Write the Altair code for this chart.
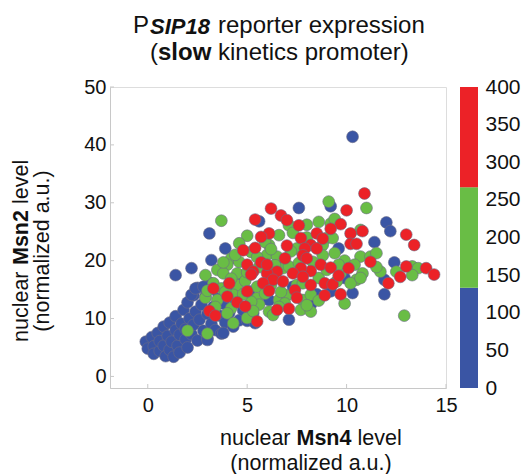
import altair as alt
import pandas as pd

# ---- data: (nuclear Msn4, nuclear Msn2, reporter expression) ----
blue_cells = [
    (-0.1, 6.0, 35), (0.0, 4.8, 20), (0.2, 6.8, 45), (0.3, 5.2, 30), (0.3, 3.9, 15),
    (0.5, 7.5, 50), (0.6, 4.4, 25), (0.6, 6.1, 40), (0.8, 8.6, 55), (0.8, 5.3, 30),
    (0.9, 3.5, 10), (1.0, 7.0, 45), (1.1, 4.6, 20), (1.1, 9.3, 60), (1.2, 6.0, 35),
    (1.3, 3.4, 15), (1.4, 8.0, 50), (1.4, 10.4, 70), (1.5, 5.3, 30), (1.6, 7.2, 45),
    (1.6, 4.1, 20), (1.7, 9.1, 65), (1.8, 11.5, 75), (1.9, 6.4, 40), (1.9, 8.2, 55),
    (2.0, 5.0, 25), (2.0, 12.8, 80), (2.1, 10.0, 60), (2.2, 7.3, 45), (2.3, 14.0, 90),
    (2.3, 8.9, 55), (2.4, 11.2, 70), (2.5, 6.2, 35), (2.5, 15.3, 95), (2.6, 9.8, 65),
    (2.7, 12.4, 85), (2.8, 7.9, 50), (2.9, 13.8, 90), (3.0, 10.8, 75), (3.0, 6.6, 40),
    (3.1, 16.2, 100), (3.2, 9.1, 60), (3.3, 12.0, 80), (3.4, 8.0, 55), (3.5, 14.6, 95),
    (3.6, 10.5, 70), (3.7, 7.4, 45), (3.8, 12.6, 85), (3.9, 9.3, 65), (4.0, 15.5, 105),
    (4.1, 11.0, 75), (4.3, 8.6, 60), (4.4, 13.2, 90), (4.6, 9.7, 70), (4.8, 11.4, 85),
    (5.0, 9.6, 75), (5.3, 10.9, 90), (5.4, 9.2, 80), (1.4, 17.5, 70), (2.2, 18.7, 85),
    (3.2, 20.1, 95), (3.1, 24.7, 110), (3.9, 22.1, 105), (2.2, 14.1, 80), (2.4, 15.2, 85),
    (2.8, 15.5, 90), (7.6, 29.1, 120), (9.2, 29.4, 115), (10.3, 41.4, 125), (12.0, 26.6, 110),
    (12.2, 25.1, 105), (11.4, 23.2, 115), (9.6, 22.1, 120), (12.4, 19.7, 100), (11.9, 16.7, 95),
    (11.9, 14.2, 90), (8.5, 14.2, 110), (10.3, 14.4, 100), (7.1, 9.8, 95), (3.8, 7.5, 60),
    (3.0, 6.3, 45), (6.1, 13.2, 115), (5.1, 14.7, 110), (8.2, 12.4, 105), (9.2, 14.7, 120),
    (5.6, 26.8, 125), (6.8, 19.5, 120), (7.3, 15.5, 115), (9.9, 17.0, 110), (4.6, 17.0, 105),
]

green_cells = [
    (9.1, 30.2, 240), (11.0, 29.1, 230), (3.7, 26.9, 180), (8.6, 26.7, 250), (9.2, 26.4, 245),
    (7.1, 26.1, 235), (5.0, 24.3, 200), (6.6, 24.4, 225), (9.0, 23.9, 240), (9.3, 23.9, 230),
    (10.7, 25.3, 220), (4.6, 23.0, 190), (6.1, 22.7, 215), (7.5, 22.1, 230), (8.8, 22.7, 240),
    (4.2, 20.4, 185), (4.6, 19.8, 190), (6.0, 21.0, 210), (6.5, 20.7, 220), (10.7, 20.7, 215),
    (11.2, 20.7, 210), (11.7, 18.1, 200), (10.8, 17.8, 205), (13.3, 19.0, 230), (13.6, 18.7, 225),
    (13.3, 17.5, 215), (12.5, 18.1, 210), (4.0, 19.3, 175), (3.5, 18.4, 165), (2.9, 17.5, 155),
    (3.8, 17.8, 170), (4.5, 17.8, 180), (6.8, 18.7, 220), (9.7, 17.8, 225), (10.5, 16.7, 200),
    (10.2, 16.1, 195), (10.7, 17.0, 205), (3.3, 16.1, 160), (3.7, 15.2, 165), (4.5, 15.8, 175),
    (5.5, 15.5, 190), (7.5, 15.8, 215), (7.8, 16.1, 220), (9.5, 16.4, 210), (2.9, 13.6, 150),
    (3.5, 13.2, 155), (4.3, 14.1, 170), (5.5, 13.5, 185), (6.6, 13.2, 195), (7.8, 13.2, 200),
    (8.2, 14.1, 205), (9.9, 12.6, 190), (3.4, 12.0, 150), (4.2, 11.8, 160), (5.6, 12.4, 175),
    (6.1, 11.2, 170), (7.7, 11.5, 185), (8.2, 11.2, 180), (4.0, 10.9, 150), (6.3, 10.6, 165),
    (4.3, 9.2, 145), (5.0, 10.1, 155), (2.0, 7.9, 140), (3.0, 7.4, 140), (12.9, 10.5, 180),
    (5.2, 21.5, 200), (5.9, 23.2, 210), (7.3, 24.8, 230), (8.0, 24.0, 235), (6.4, 19.2, 215),
    (7.1, 19.0, 220), (5.6, 18.9, 200), (4.9, 16.5, 185), (6.2, 15.8, 195), (7.0, 14.0, 200),
    (8.6, 17.0, 225), (9.9, 20.0, 230), (11.5, 21.3, 215), (3.0, 14.8, 155), (5.2, 12.9, 175),
    (6.9, 12.6, 185),
    (4.4, 21.0, 190), (5.5, 20.6, 205), (6.2, 22.0, 215), (7.6, 19.6, 225), (8.3, 19.8, 230),
    (8.8, 20.9, 235), (9.4, 21.3, 230), (9.6, 19.3, 220), (7.2, 21.6, 225), (5.0, 18.0, 190),
    (4.2, 16.9, 175), (5.9, 14.3, 190), (6.7, 14.6, 200), (8.0, 12.3, 190), (8.6, 13.1, 195),
    (3.9, 14.6, 165), (5.3, 11.3, 165), (6.6, 12.0, 180), (8.0, 26.2, 245), (9.4, 27.2, 240),
    (3.8, 19.7, 170), (9.0, 18.4, 225), (10.4, 19.3, 220), (11.5, 18.9, 210), (4.8, 14.2, 180),
]

red_cells = [
    (10.9, 31.6, 360), (10.0, 28.7, 340), (6.2, 29.0, 320), (5.4, 27.1, 300), (6.7, 27.8, 330),
    (7.0, 27.0, 325), (7.6, 26.1, 335), (9.7, 26.3, 350), (9.2, 25.5, 345), (8.5, 24.7, 340),
    (10.2, 24.7, 355), (10.8, 25.1, 360), (6.1, 24.7, 310), (5.7, 24.1, 300), (13.0, 24.5, 370),
    (13.4, 22.7, 365), (10.2, 22.9, 350), (10.5, 22.9, 355), (7.7, 23.9, 330), (8.2, 22.7, 335),
    (7.0, 22.6, 320), (5.4, 22.2, 295), (4.8, 21.8, 290), (7.9, 22.1, 330), (8.5, 22.1, 340),
    (7.8, 20.9, 325), (8.0, 20.4, 330), (6.9, 20.4, 315), (5.7, 19.7, 300), (5.0, 19.3, 290),
    (11.2, 19.8, 350), (8.7, 19.3, 335), (9.2, 18.8, 340), (10.1, 18.7, 345), (13.0, 19.0, 370),
    (14.0, 18.7, 380), (14.4, 17.6, 385), (8.2, 18.2, 330), (7.7, 18.7, 325), (6.5, 18.1, 310),
    (5.3, 18.1, 295), (5.2, 17.6, 290), (6.0, 17.8, 300), (7.3, 17.8, 320), (7.8, 17.2, 320),
    (12.7, 17.2, 360), (12.1, 16.1, 355), (4.1, 16.1, 280), (6.3, 16.7, 305), (6.8, 16.4, 310),
    (5.8, 16.1, 300), (8.2, 15.8, 320), (8.9, 16.1, 330), (9.3, 15.9, 335), (3.3, 15.2, 275),
    (5.0, 14.7, 290), (6.1, 14.8, 300), (7.4, 14.9, 310), (8.9, 14.0, 320), (9.7, 14.2, 330),
    (4.0, 13.8, 280), (4.5, 12.8, 285), (4.9, 12.1, 285), (3.1, 11.3, 275), (3.4, 10.5, 275),
    (6.5, 11.5, 295), (7.1, 11.7, 300), (5.5, 9.5, 280),
    (7.5, 13.6, 305), (6.0, 19.3, 305), (8.8, 23.8, 340), (9.6, 17.4, 335),
]

x_ticks = [0, 5, 10, 15]
y_ticks = [0, 10, 20, 30, 40, 50]
cbar_ticks = [0, 50, 100, 150, 200, 250, 300, 350, 400]
bin_edges = [0, 133.33, 266.67, 400]
bin_colors = ["#3a55a4", "#69bd45", "#ec2227"]

FONT = "Liberation Sans"

rows = []
for group in (blue_cells, green_cells, red_cells):
    for mx, my, ex in group:
        rows.append({"msn4": mx, "msn2": my, "expr": ex})
cells = pd.DataFrame(rows)

cbar = pd.DataFrame({
    "lo": bin_edges[:-1],
    "hi": bin_edges[1:],
    "mid": [(a + b) / 2 for a, b in zip(bin_edges[:-1], bin_edges[1:])],
})

color_scale = alt.Scale(type="threshold", domain=bin_edges[1:3], range=bin_colors)
x_scale = alt.Scale(domain=[-1.9, 15], nice=False, zero=False)
y_scale = alt.Scale(domain=[-2, 50], nice=False, zero=False)

points = alt.Chart(cells).mark_circle(
    size=140, opacity=1, stroke="#6c6c84", strokeWidth=0.6
).encode(
    x=alt.X("msn4:Q", scale=x_scale, title=None,
            axis=alt.Axis(values=x_ticks, tickSize=0, labelPadding=7, grid=False,
                          labelFlush=False, domainColor="#c8c8c8", labelFontSize=20,
                          labelColor="#111", labelFont=FONT)),
    y=alt.Y("msn2:Q", scale=y_scale, title=None,
            axis=alt.Axis(values=y_ticks, tickSize=0, labelPadding=4, grid=False,
                          labelFlush=False, domainColor="#c8c8c8", labelFontSize=20,
                          labelColor="#111", labelFont=FONT)),
    color=alt.Color("expr:Q", scale=color_scale, legend=None),
)

xt = alt.Chart(pd.DataFrame({"v": x_ticks})).mark_rule(color="#c8c8c8").encode(
    x=alt.X("v:Q", scale=x_scale), y=alt.value(301), y2=alt.value(297))
yt = alt.Chart(pd.DataFrame({"v": y_ticks})).mark_rule(color="#c8c8c8").encode(
    y=alt.Y("v:Q", scale=y_scale), x=alt.value(0), x2=alt.value(4))

one = pd.DataFrame({"k": [0]})


def label(txt, x, y, size=21.5, weight="normal", style="normal", align="left", angle=0):
    return alt.Chart(one).mark_text(
        text=txt, font=FONT, fontSize=size, fontWeight=weight, fontStyle=style,
        align=align, baseline="alphabetic", angle=angle, color="#111",
    ).encode(x=alt.value(x), y=alt.value(y))


texts = [
    # title
    label("P", 23, -54, size=24),
    label("SIP18", 40, -53, size=22, weight="bold", style="italic"),
    label("reporter expression", 108, -54, size=24),
    label("(", 40, -27, size=24),
    label("slow", 48, -27, size=24, weight="bold"),
    label("kinetics promoter)", 108, -27, size=24),
    # x title
    label("nuclear", 110, 358),
    label("Msn4", 186.5, 358, weight="bold"),
    label("level", 247.5, 358),
    label("(normalized a.u.)", 201, 383, align="center"),
    # y title
    label("nuclear", -82, 255, angle=270),
    label("Msn2", -82, 178, weight="bold", angle=270),
    label("level", -82, 117, angle=270),
    label("(normalized a.u.)", -61, 164, align="center", angle=270),
]

main = alt.layer(xt, yt, points, *texts)

colorbar = alt.Chart(cbar).mark_rect().encode(
    x=alt.value(350), x2=alt.value(368),
    y=alt.Y("lo:Q", scale=alt.Scale(domain=[0, 400], nice=False),
            axis=alt.Axis(orient="right", offset=32, values=cbar_ticks, ticks=False,
                          domain=False, grid=False, labelPadding=7, labelFontSize=21,
                          labelFlush=False, labelColor="#111", labelFont=FONT, title=None)),
    y2="hi:Q",
    color=alt.Color("mid:Q", scale=color_scale, legend=None),
)

chart = alt.layer(main, colorbar).resolve_scale(y="independent").properties(
    width=336, height=301,
    autosize=alt.AutoSizeParams(type="none"),
    padding={"left": 110, "top": 87, "right": 79, "bottom": 86},
).configure_view(stroke=None).configure(background="white")

chart.save("out.html", embed_options={"renderer": "svg", "actions": False})
